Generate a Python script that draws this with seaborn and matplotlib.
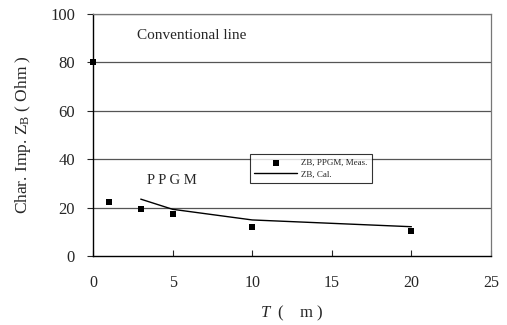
"""Characteristic impedance vs T: PPGM measurement and calculation."""
import matplotlib
matplotlib.use("Agg")
import matplotlib.pyplot as plt
import numpy as np
import pandas as pd
import seaborn as sns

# measured points (PPGM, plus conventional line at T=0)
meas_t = [0, 1, 3, 5, 10, 20]
meas_z = [80, 22.3, 19.5, 17.2, 12.1, 10.2]

# calculated curve
cal_t = [3, 5, 10, 20]
cal_z = [23.5, 19.3, 14.9, 12.1]

x_ticks = [0, 5, 10, 15, 20, 25]
y_ticks = [0, 20, 40, 60, 80, 100]

sns.set_style("white")
plt.rcParams.update({
    "font.family": ["Liberation Serif", "DejaVu Serif"],
    "mathtext.fontset": "custom",
    "mathtext.rm": "Liberation Serif",
    "mathtext.it": "Liberation Serif:italic",
})

meas = pd.DataFrame({"T": meas_t, "Z": meas_z})
cal = pd.DataFrame({"T": cal_t, "Z": cal_z})

fig = plt.figure(figsize=(5.07, 3.25), dpi=100)
ax = fig.add_axes([0.1834, 0.2123, 0.785, 0.7446])

for y in y_ticks[1:]:
    ax.axhline(y, color="#555555", linewidth=0.9, zorder=1)

sns.scatterplot(data=meas, x="T", y="Z", marker="s", s=22, color="black",
                edgecolor="black", linewidth=0, ax=ax, zorder=3,
                label="ZB, PPGM, Meas.", clip_on=False)
sns.lineplot(data=cal, x="T", y="Z", color="black", linewidth=1.0, ax=ax,
             zorder=2, label="ZB, Cal.")

ax.set_xlim(0, 25)
ax.set_ylim(0, 100)
ax.set_xticks(x_ticks)
ax.set_yticks(y_ticks)
ax.tick_params(axis="x", direction="in", length=4, width=0.8, pad=14, labelsize=11.5)
ax.tick_params(axis="y", direction="out", length=4, width=0.8, pad=9, labelsize=12)
ax.tick_params(bottom=True, left=True)

for side in ["left", "bottom"]:
    ax.spines[side].set_color("black")
    ax.spines[side].set_linewidth(1.0)
for side in ["top", "right"]:
    ax.spines[side].set_color("#777777")
    ax.spines[side].set_linewidth(0.9)

ax.set_xlabel(r"$\mathit{T}$  (    m )", fontsize=12, labelpad=9)
ax.set_ylabel(r"Char. Imp. Z$_{\mathrm{B}}$ ( Ohm )", fontsize=12.5, labelpad=12)

ax.text(2.75, 91.3, "Conventional line", fontsize=11, va="center", ha="left")
ax.text(3.4, 31.4, "P P G M", fontsize=10.5, va="center", ha="left")

leg = ax.legend(loc="upper left", bbox_to_anchor=(0.382, 0.44), fontsize=6.5,
                frameon=True, fancybox=False, handlelength=4.8,
                borderpad=0.5, labelspacing=0.35, handletextpad=0.4)
leg.get_frame().set_edgecolor("black")
leg.get_frame().set_linewidth(0.8)

fig.savefig("out.png", dpi=100)
